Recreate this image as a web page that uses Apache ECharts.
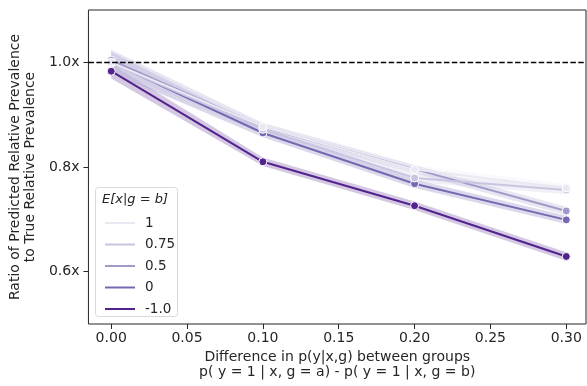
<!DOCTYPE html>
<html>
<head>
<meta charset="utf-8">
<script src="https://cdn.jsdelivr.net/npm/echarts@6/dist/echarts.min.js"></script>
<style>
  html, body { margin: 0; padding: 0; background: #fff; }
  #chart { width: 587px; height: 386px; }
</style>
</head>
<body>
<div id="chart"></div>
<script>
// x positions (difference in p(y|x,g) between groups)
var diffs = [0, 0.1, 0.2, 0.3];

// hue levels E[x|g=b], legend order
var levels = ['1', '0.75', '0.5', '0', '-1.0'];

// ratio of predicted / true relative prevalence
var ratio_1 = [1.000, 0.877, 0.795, 0.760];
var ratio_075 = [0.998, 0.872, 0.779, 0.756];
var ratio_05 = [1.004, 0.876, 0.796, 0.716];
var ratio_0 = [1.000, 0.865, 0.768, 0.699];
var ratio_m1 = [0.983, 0.810, 0.726, 0.629];

// half width of the confidence band
var ci_1 = [0.020, 0.008, 0.008, 0.008];
var ci_075 = [0.020, 0.008, 0.008, 0.008];
var ci_05 = [0.020, 0.008, 0.008, 0.008];
var ci_0 = [0.020, 0.008, 0.008, 0.008];
var ci_m1 = [0.014, 0.008, 0.008, 0.008];

var xTicks = [0, 0.05, 0.1, 0.15, 0.2, 0.25, 0.3];
var yTicks = [0.6, 0.8, 1.0];

var colors = ['#ebe8f3', '#c8c5e1', '#9f9bc9', '#7767b2', '#52238d'];
var allRatios = [ratio_1, ratio_075, ratio_05, ratio_0, ratio_m1];
var allCi = [ci_1, ci_075, ci_05, ci_0, ci_m1];

var font = 'DejaVu Sans';
var chart = echarts.init(document.getElementById('chart'));

function bandSeries(i) {
    var data = diffs.map(function (x, k) {
        return [x, allRatios[i][k] - allCi[i][k], allRatios[i][k] + allCi[i][k]];
    });
    return {
        type: 'custom',
        silent: true,
        z: 1,
        data: data,
        renderItem: function (params, api) {
            if (params.dataIndex !== 0) return null;
            var upper = [], lower = [];
            for (var k = 0; k < data.length; k++) {
                upper.push(api.coord([data[k][0], data[k][2]]));
                lower.unshift(api.coord([data[k][0], data[k][1]]));
            }
            return {
                type: 'polygon',
                shape: { points: upper.concat(lower) },
                style: { fill: colors[i], opacity: 0.25 }
            };
        }
    };
}

function lineSeries(i) {
    var s = {
        name: levels[i],
        type: 'line',
        z: 3,
        data: diffs.map(function (x, k) { return [x, allRatios[i][k]]; }),
        symbol: 'circle',
        symbolSize: 8,
        lineStyle: { color: colors[i], width: 2 },
        itemStyle: { color: colors[i], borderColor: '#fff', borderWidth: 1 },
        emphasis: { disabled: true },
        animation: false
    };
    if (i === 0) {
        s.markLine = {
            silent: true,
            symbol: 'none',
            label: { show: false },
            lineStyle: { color: '#000', type: [5.5, 2.4], width: 1.4 },
            data: [{ yAxis: 1.0 }]
        };
    }
    return s;
}

var series = [];
for (var i = levels.length - 1; i >= 0; i--) series.push(bandSeries(i));
for (var j = levels.length - 1; j >= 0; j--) series.push(lineSeries(j));

var option = {
    animation: false,
    backgroundColor: '#fff',
    color: colors,
    grid: {
        left: 87, right: 1, top: 10, bottom: 62,
        show: true, borderColor: '#262626', borderWidth: 1
    },
    legend: {
        data: levels,
        orient: 'vertical',
        left: 100, top: 211,
        itemWidth: 30, itemHeight: 2, itemGap: 7.5,
        icon: 'rect',
        itemStyle: { borderWidth: 0 },
        textStyle: { fontFamily: font, fontSize: 13.5, color: '#262626', padding: [0, 0, 0, 5] }
    },
    graphic: [
        {
            type: 'rect', left: 95, top: 187, z: 0,
            shape: { width: 82, height: 129, r: 3 },
            style: { fill: 'rgba(255,255,255,0.8)', stroke: '#d9d9d9', lineWidth: 1 }
        },
        {
            type: 'text', left: 102, top: 193, z: 10,
            style: { text: 'E[x|g = b]', font: 'italic 13px "DejaVu Sans"', fill: '#262626' }
        }
    ],
    xAxis: {
        type: 'value',
        min: -0.015, max: 0.313,
        name: 'Difference in p(y|x,g) between groups\np( y = 1 | x, g = a) - p( y = 1 | x, g = b)',
        nameLocation: 'middle',
        nameGap: 26,
        nameTextStyle: { fontFamily: font, fontSize: 14, color: '#262626', lineHeight: 15 },
        axisLine: { show: false, onZero: false },
        splitLine: { show: false },
        axisTick: { show: true, length: 5, lineStyle: { color: '#262626' }, customValues: xTicks },
        axisLabel: {
            customValues: xTicks, fontFamily: font, fontSize: 14, color: '#262626', margin: 7,
            formatter: function (v) { return v.toFixed(2); }
        }
    },
    yAxis: {
        type: 'value',
        min: 0.5, max: 1.1,
        name: 'Ratio of Predicted Relative Prevalence\nto True Relative Prevalence',
        nameLocation: 'middle',
        nameGap: 39,
        nameTextStyle: { fontFamily: font, fontSize: 14, color: '#262626', lineHeight: 15 },
        axisLine: { show: false, onZero: false },
        splitLine: { show: false },
        axisTick: { show: true, length: 5, lineStyle: { color: '#262626' }, customValues: yTicks },
        axisLabel: {
            customValues: yTicks, fontFamily: font, fontSize: 14, color: '#262626', margin: 9,
            formatter: function (v) { return v.toFixed(1) + 'x'; }
        }
    },
    series: series
};

chart.setOption(option);
</script>
</body>
</html>
